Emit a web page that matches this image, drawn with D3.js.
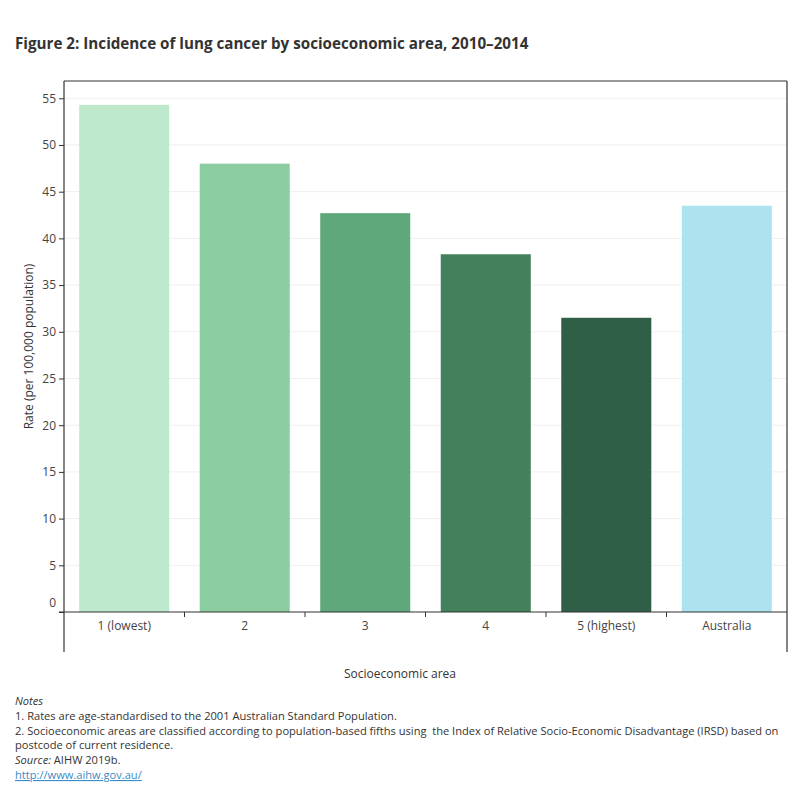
<!DOCTYPE html>
<html>
<head>
<meta charset="utf-8">
<script src="https://cdn.jsdelivr.net/npm/d3@7"></script>
<style>
  body { margin: 0; background: #fff; }
  text { font-family: "Open Sans", "DejaVu Sans", sans-serif; white-space: pre; }
</style>
</head>
<body>
<div id="chart"></div>
<script>
// data
const areas = ["1 (lowest)", "2", "3", "4", "5 (highest)", "Australia"];
const rates = [54.3, 48.0, 42.7, 38.3, 31.5, 43.5];
const barColors = ["#bfe9cc", "#8ccca1", "#5ea87b", "#43805c", "#305f48", "#ade3ee"];
const yTicks = [0, 5, 10, 15, 20, 25, 30, 35, 40, 45, 50, 55];
const noteLines = [
  "1. Rates are age-standardised to the 2001 Australian Standard Population.",
  "2. Socioeconomic areas are classified according to population-based fifths using  the Index of Relative Socio-Economic Disadvantage (IRSD) based on",
  "postcode of current residence."
];

const width = 800, height = 800;
const plotL = 64, plotR = 787, plotT = 81, plotB = 612, headerB = 652;

const svg = d3.select("#chart").append("svg")
  .attr("width", width).attr("height", height);

// title
svg.append("text")
  .attr("x", 15).attr("y", 49)
  .attr("font-size", 15.2).attr("font-weight", "bold").attr("fill", "#333")
  .text("Figure 2: Incidence of lung cancer by socioeconomic area, 2010\u20132014");

const x = d3.scaleBand().domain(areas).range([plotL, plotR]).paddingInner(0.253).paddingOuter(0.126);
const xb = d3.scaleBand().domain(areas).range([plotL, plotR]);
const y = d3.scaleLinear().domain([0, 56.85]).range([plotB, plotT]);

// gridlines
svg.append("g")
  .selectAll("line").data(yTicks.filter(d => d > 0)).join("line")
  .attr("x1", plotL).attr("x2", plotR)
  .attr("y1", d => y(d)).attr("y2", d => y(d))
  .attr("stroke", "#efefef").attr("stroke-width", 1);

// bars
svg.append("g")
  .selectAll("rect").data(rates).join("rect")
  .attr("x", (d, i) => x(areas[i]))
  .attr("width", x.bandwidth())
  .attr("y", d => y(d))
  .attr("height", d => y(0) - y(d))
  .attr("fill", (d, i) => barColors[i]);

// y axis
const yAxis = svg.append("g")
  .attr("transform", `translate(${plotL},0)`)
  .call(d3.axisLeft(y).tickValues(yTicks).tickSize(5).tickPadding(3));
yAxis.select(".domain").remove();
yAxis.selectAll(".tick line").attr("stroke", "#333");
yAxis.selectAll(".tick text")
  .attr("font-size", 12).attr("fill", "#444")
  .attr("font-family", "Open Sans, sans-serif")
  .attr("dy", d => d === 0 ? "-0.45em" : "0.32em");

// x axis (boundary ticks)
svg.append("g")
  .selectAll("line").data(areas.slice(1)).join("line")
  .attr("x1", d => xb(d)).attr("x2", d => xb(d))
  .attr("y1", plotB).attr("y2", plotB + 5)
  .attr("stroke", "#333");
svg.append("g")
  .selectAll("text").data(areas).join("text")
  .attr("x", d => xb(d) + xb.bandwidth() / 2)
  .attr("y", 630)
  .attr("text-anchor", "middle")
  .attr("font-size", 12).attr("fill", "#444")
  .text(d => d);

// frame
const frame = svg.append("g").attr("stroke", "#333").attr("stroke-width", 1.2).attr("fill", "none");
frame.append("line").attr("x1", plotL).attr("x2", plotR).attr("y1", plotT).attr("y2", plotT);
frame.append("line").attr("x1", plotL).attr("x2", plotL).attr("y1", plotT).attr("y2", headerB);
frame.append("line").attr("x1", plotR).attr("x2", plotR).attr("y1", plotT).attr("y2", headerB);
frame.append("line").attr("x1", plotL - 5).attr("x2", plotR).attr("y1", plotB).attr("y2", plotB);

// axis titles
svg.append("text")
  .attr("transform", `translate(33,${(plotT + plotB) / 2}) rotate(-90)`)
  .attr("text-anchor", "middle").attr("font-size", 12).attr("fill", "#333")
  .text("Rate (per 100,000 population)");
svg.append("text")
  .attr("x", 400).attr("y", 678)
  .attr("text-anchor", "middle").attr("font-size", 12).attr("fill", "#333")
  .text("Socioeconomic area");

// notes
const notes = svg.append("g").attr("font-size", 11.1).attr("fill", "#333");
notes.append("text").attr("x", 15).attr("y", 705).attr("font-style", "italic").text("Notes");
notes.selectAll("text.line").data(noteLines).join("text")
  .attr("class", "line")
  .attr("x", 15).attr("y", (d, i) => 720 + i * 14.7)
  .text(d => d);
const src = notes.append("text").attr("x", 15).attr("y", 764);
src.append("tspan").attr("font-style", "italic").text("Source:");
src.append("tspan").text(" AIHW 2019b.");
notes.append("text").attr("x", 15).attr("y", 779)
  .attr("fill", "#3a8cc4").attr("text-decoration", "underline")
  .text("http://www.aihw.gov.au/");
</script>
</body>
</html>
